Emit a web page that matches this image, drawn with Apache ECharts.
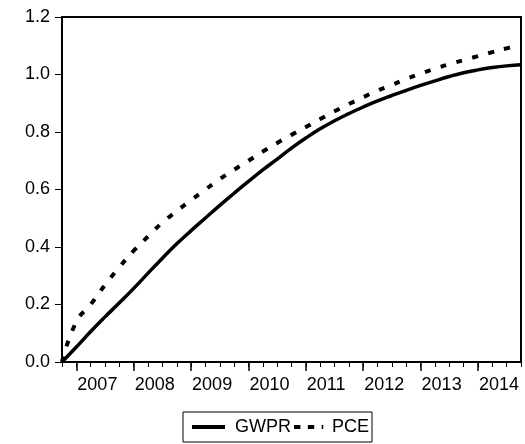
<!DOCTYPE html>
<html>
<head>
<meta charset="utf-8">
<script src="https://cdn.jsdelivr.net/npm/echarts@6/dist/echarts.min.js"></script>
<style>
html,body{margin:0;padding:0;background:#fff;}
#chart{width:525px;height:444px;}
</style>
</head>
<body>
<div id="chart"></div>
<script>
var quarters = ['2006Q4',
  '2007Q1','2007Q2','2007Q3','2007Q4',
  '2008Q1','2008Q2','2008Q3','2008Q4',
  '2009Q1','2009Q2','2009Q3','2009Q4',
  '2010Q1','2010Q2','2010Q3','2010Q4',
  '2011Q1','2011Q2','2011Q3','2011Q4',
  '2012Q1','2012Q2','2012Q3','2012Q4',
  '2013Q1','2013Q2','2013Q3','2013Q4',
  '2014Q1','2014Q2','2014Q3','2014Q4'];
var gwpr = [0.000,
  0.052,0.106,0.157,0.206,
  0.256,0.309,0.361,0.411,
  0.457,0.501,0.545,0.587,
  0.628,0.668,0.706,0.744,
  0.779,0.811,0.839,0.864,
  0.887,0.908,0.927,0.945,
  0.962,0.978,0.993,1.006,
  1.016,1.024,1.030,1.034];
var pce = [0.000,
  0.140,0.200,0.268,0.330,
  0.387,0.437,0.485,0.525,
  0.563,0.600,0.636,0.669,
  0.700,0.732,0.762,0.790,
  0.817,0.845,0.872,0.897,
  0.921,0.944,0.964,0.985,
  1.003,1.020,1.036,1.050,
  1.064,1.078,1.091,1.103];
var yTicks = [0.0, 0.2, 0.4, 0.6, 0.8, 1.0, 1.2];

function isQ1(v){ return String(v).slice(4) === 'Q1'; }

var chart = echarts.init(document.getElementById('chart'), null, {renderer:'canvas'});
var fontFam = '"Liberation Sans", Arial, Helvetica, sans-serif';
chart.setOption({
  animation: false,
  backgroundColor: '#fff',
  textStyle: {fontFamily: fontFam, color: '#000'},
  grid: {left: 62, right: 4, top: 17, bottom: 82, show: true, borderColor: '#000', borderWidth: 2, backgroundColor: 'transparent'},
  xAxis: [{
    type: 'category', data: quarters, boundaryGap: false, position: 'bottom',
    axisLine: {show: true, lineStyle: {color: '#000', width: 2}},
    axisTick: {show: true, inside: false, length: 5, interval: 0, lineStyle: {color: '#000', width: 1}},
    axisLabel: {
      show: true, margin: 14, align: 'left', color: '#000', fontSize: 18, fontFamily: fontFam,
      padding: [0,0,0,1],
      interval: function(i, v){ return isQ1(v); },
      formatter: function(v){ return String(v).slice(0,4); }
    },
    splitLine: {show: false}
  }, {
    type: 'category', data: quarters, boundaryGap: false, position: 'bottom',
    axisLine: {show: false},
    axisTick: {show: true, inside: false, length: 9, interval: function(i, v){ return isQ1(v); }, lineStyle: {color: '#000', width: 1.5}},
    axisLabel: {show: false},
    splitLine: {show: false}
  }],
  yAxis: {
    type: 'value', min: yTicks[0], max: yTicks[yTicks.length-1], interval: 0.2,
    axisLine: {show: true, lineStyle: {color: '#000', width: 2}},
    axisTick: {show: true, inside: false, length: 7, lineStyle: {color: '#000', width: 1}},
    axisLabel: {margin: 12, color: '#000', fontSize: 18, fontFamily: fontFam, formatter: function(v){ return v.toFixed(1); }},
    splitLine: {show: false}
  },
  legend: {
    left: 183, top: 412, orient: 'horizontal',
    borderColor: '#000', borderWidth: 1, borderRadius: 0,
    padding: [6, 3, 6, 9],
    itemWidth: 33, itemHeight: 4, itemGap: 3, symbolKeepAspect: false,
    itemStyle: {color: '#000', borderWidth: 0},
    textStyle: {fontSize: 18, color: '#000', fontFamily: fontFam, padding: [0,0,0,5]},
    data: [
      {name: 'GWPR', icon: 'rect'},
      {name: 'PCE', icon: 'path://M0,0h6v4h-6z M13,0h6v4h-6z M26,0h1.5v4h-1.5z M31,0h0v4h0z', textStyle: {padding: [0,0,0,0]}}
    ]
  },
  series: [{
    name: 'GWPR', type: 'line', data: gwpr, xAxisIndex: 0,
    symbol: 'none', smooth: true, color: '#000',
    lineStyle: {color: '#000', width: 3.5, type: 'solid'}
  }, {
    name: 'PCE', type: 'line', data: pce, xAxisIndex: 0,
    symbol: 'none', smooth: true, color: '#000',
    lineStyle: {color: '#000', width: 4, type: [6, 10.5], cap: 'butt'}
  }]
});
</script>
</body>
</html>
